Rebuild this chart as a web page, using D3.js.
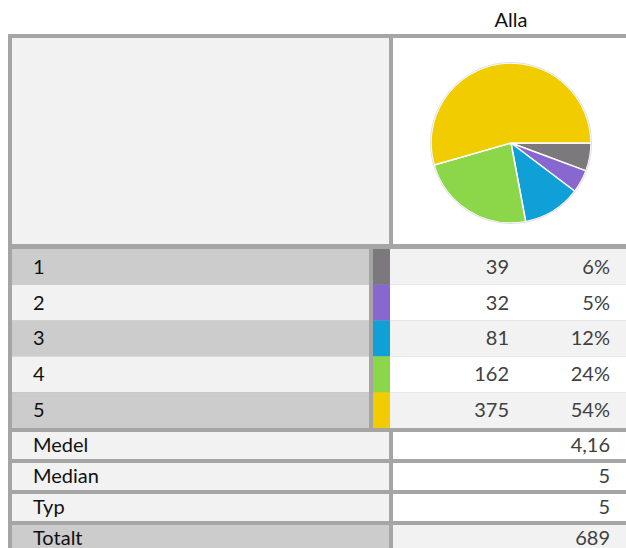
<!DOCTYPE html>
<html>
<head>
<meta charset="utf-8">
<script src="https://cdn.jsdelivr.net/npm/d3@7"></script>
<style>
  html, body { margin: 0; padding: 0; background: #ffffff; }
  svg { display: block; }
  text { font-family: Lato, "Open Sans", sans-serif; font-size: 20px; }
</style>
</head>
<body>
<svg id="chart" width="626" height="548"></svg>
<script>
// Answer categories and their counts
const categories = ["1", "2", "3", "4", "5"];
const counts = [39, 32, 81, 162, 375];
const percentLabels = ["6%", "5%", "12%", "24%", "54%"];
const sliceColors = ["#7b797b", "#8868d0", "#10a0d8", "#8cd64a", "#f0cc00"];

// Summary statistics
const statLabels = ["Medel", "Median", "Typ"];
const statValues = ["4,16", "5", "5"];
const totalLabel = "Totalt";
const totalValue = 689;
const columnTitle = "Alla";

const W = 626, H = 548;
const borderColor = "#a5a5a5";
const svg = d3.select("#chart");

// Table frame: grey background shows through as cell borders
const frameLeft = 8, frameTop = 34;
svg.append("rect").attr("x", frameLeft).attr("y", frameTop)
  .attr("width", W - frameLeft).attr("height", H - frameTop).attr("fill", borderColor);

const xLabel0 = 12, xLabel1 = 389, xVal0 = 393;
const xSw0 = 373, xSw1 = 390, xLab1Rows = 369;

// Column header
svg.append("text").attr("x", 511).attr("y", 27)
  .attr("text-anchor", "middle").attr("fill", "#111").text(columnTitle);

// Chart header cells
svg.append("rect").attr("x", xLabel0).attr("y", 38)
  .attr("width", xLabel1 - xLabel0).attr("height", 244 - 38).attr("fill", "#f2f2f2");
svg.append("rect").attr("x", xVal0).attr("y", 38)
  .attr("width", W - xVal0).attr("height", 244 - 38).attr("fill", "#ffffff");

// Pie
const pie = d3.pie().sort(null).startAngle(Math.PI / 2).endAngle(Math.PI / 2 + 2 * Math.PI);
const arc = d3.arc().innerRadius(0).outerRadius(80);
const pieG = svg.append("g").attr("transform", "translate(511,143)");
pieG.selectAll("path").data(pie(counts)).join("path")
  .attr("d", arc)
  .attr("fill", (d, i) => sliceColors[i])
  .attr("stroke", "#ffffff").attr("stroke-width", 1.5)
  .attr("stroke-linejoin", "round");
pieG.append("circle").attr("r", 80.5).attr("fill", "none")
  .attr("stroke", "#d8d8d8").attr("stroke-width", 0.8);

// Category rows
const rowY = d3.scaleBand().domain(categories).range([249, 428]);
const rows = svg.append("g").selectAll("g").data(categories).join("g")
  .attr("transform", d => `translate(0,${rowY(d)})`);
rows.append("rect").attr("x", xLabel0).attr("width", xLab1Rows - xLabel0)
  .attr("height", rowY.bandwidth())
  .attr("fill", (d, i) => i % 2 === 0 ? "#cccccc" : "#f2f2f2");
rows.append("rect").attr("x", xSw0).attr("width", xSw1 - xSw0)
  .attr("height", rowY.bandwidth())
  .attr("fill", (d, i) => sliceColors[i]);
rows.append("rect").attr("x", xSw1).attr("width", W - xSw1)
  .attr("height", rowY.bandwidth())
  .attr("fill", (d, i) => i % 2 === 0 ? "#f2f2f2" : "#ffffff");
const midY = rowY.bandwidth() / 2 + 7;
rows.append("text").attr("x", 33).attr("y", midY).attr("fill", "#111").text(d => d);
rows.append("text").attr("x", 509).attr("y", midY).attr("text-anchor", "end")
  .attr("fill", "#404040").text((d, i) => counts[i]);
rows.append("text").attr("x", 610).attr("y", midY).attr("text-anchor", "end")
  .attr("fill", "#404040").text((d, i) => percentLabels[i]);

// Summary rows
const summary = statLabels.map((l, i) => ({ label: l, value: statValues[i], total: false }))
  .concat([{ label: totalLabel, value: String(totalValue), total: true }]);
const sumY = d3.scaleBand().domain(summary.map(d => d.label)).range([432, 552]).paddingInner(4 / 31);
const srows = svg.append("g").selectAll("g").data(summary).join("g")
  .attr("transform", d => `translate(0,${sumY(d.label)})`);
srows.append("rect").attr("x", xLabel0).attr("width", xLabel1 - xLabel0)
  .attr("height", sumY.bandwidth())
  .attr("fill", d => d.total ? "#cccccc" : "#f2f2f2");
srows.append("rect").attr("x", xVal0).attr("width", W - xVal0)
  .attr("height", sumY.bandwidth())
  .attr("fill", d => d.total ? "#f2f2f2" : "#ffffff");
const sMid = sumY.bandwidth() / 2 + 6;
srows.append("text").attr("x", 33).attr("y", sMid).attr("fill", "#111").text(d => d.label);
srows.append("text").attr("x", 610).attr("y", sMid).attr("text-anchor", "end")
  .attr("fill", "#404040").text(d => d.value);
</script>
</body>
</html>
